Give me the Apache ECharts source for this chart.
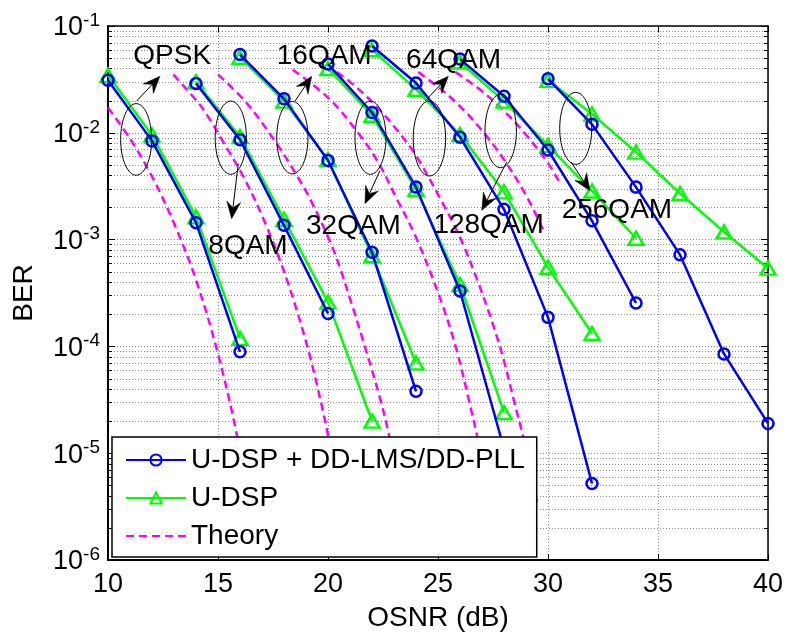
<!DOCTYPE html>
<html>
<head>
<meta charset="utf-8">
<script src="https://cdn.jsdelivr.net/npm/echarts@6/dist/echarts.min.js"></script>
<style>
  html, body { margin: 0; padding: 0; background: #fff; }
  #chart { width: 787px; height: 637px; }
</style>
</head>
<body>
<div id="chart"></div>
<script>
// ---- Measured BER vs OSNR (dB) ----
// QPSK
const qpskX = [10, 12, 14, 16];
const qpskDD = [3.1e-2, 8.4e-3, 1.44e-3, 8.9e-5];
const qpskU = [3.45e-2, 9.5e-3, 1.63e-3, 1.19e-4];
// 8QAM
const qam8X_DD = [14, 16, 18, 20];
const qam8DD = [2.9e-2, 8.6e-3, 1.36e-3, 2.03e-4];
const qam8X_U = [14, 16, 18, 20, 22];
const qam8U = [3.0e-2, 9.2e-3, 1.55e-3, 2.6e-4, 2.0e-5];
// 16QAM
const qam16X = [16, 18, 20, 22, 24];
const qam16DD = [5.4e-2, 2.08e-2, 5.5e-3, 7.6e-4, 3.8e-5];
const qam16U = [5.1e-2, 1.98e-2, 5.6e-3, 7.1e-4, 7.0e-5];
// 32QAM
const qam32X = [20, 22, 24, 26, 28];
const qam32DD = [4.4e-2, 1.55e-2, 3.1e-3, 3.3e-4, 1.1e-5];
const qam32U = [4.0e-2, 1.46e-2, 2.95e-3, 3.8e-4, 2.4e-5];
// 64QAM
const qam64X = [22, 24, 26, 28, 30, 32];
const qam64DD = [6.5e-2, 2.93e-2, 9.1e-3, 1.92e-3, 1.87e-4, 5.2e-6];
const qam64U = [6.0e-2, 2.55e-2, 9.6e-3, 2.8e-3, 5.5e-4, 1.32e-4];
// 128QAM
const qam128X = [26, 28, 30, 32, 34];
const qam128DD = [4.9e-2, 2.2e-2, 6.9e-3, 1.5e-3, 2.55e-4];
const qam128U = [4.6e-2, 1.98e-2, 7.6e-3, 2.85e-3, 1.03e-3];
// 256QAM
const qam256X = [30, 32, 34, 36, 38, 40];
const qam256DD = [3.2e-2, 1.2e-2, 3.1e-3, 7.2e-4, 8.5e-5, 1.9e-5];
const qam256U = [3.1e-2, 1.5e-2, 6.6e-3, 2.7e-3, 1.18e-3, 5.4e-4];

// ---- Theoretical curves: [OSNR, BER] ----
const theoryQPSK = [[10, 1.72e-2], [11, 8.8e-3], [12, 3.9e-3], [13, 1.42e-3], [14, 4.2e-4], [15, 8.5e-5], [15.85, 1.5e-5], [16.5, 2.5e-6]];
const theory8QAM = [[12.97, 3.5e-2], [14.15, 1.86e-2], [14.64, 1.32e-2], [15.15, 8.8e-3], [16.15, 3.9e-3], [17.15, 1.42e-3], [18.15, 4.1e-4], [19.15, 8.5e-5], [20.0, 1.5e-5], [20.65, 3.2e-6]];
const theory16QAM = [[15.01, 3.5e-2], [16.3, 1.9e-2], [17.67, 7.9e-3], [18.58, 4.0e-3], [19.18, 2.42e-3], [20.09, 9.6e-4], [20.55, 5.4e-4], [21.0, 2.8e-4], [21.6, 1.12e-4], [22.36, 3.3e-5], [22.8, 1.4e-5], [23.3, 4.5e-6]];
const theory32QAM = [[18.4, 3.9e-2], [20.09, 2.05e-2], [21.5, 9.2e-3], [22.3, 5.2e-3], [23.12, 2.42e-3], [24.0, 1.05e-3], [25.1, 2.8e-4], [25.8, 1.0e-4], [26.38, 3.3e-5], [26.9, 1.1e-5], [27.3, 4e-6]];
const theory64QAM = [[20.4, 3.7e-2], [21, 3.0e-2], [22, 1.95e-2], [23, 1.15e-2], [24, 6.1e-3], [25.1, 2.42e-3], [26, 1.05e-3], [26.8, 4.1e-4], [27.5, 1.6e-4], [28, 7.3e-5], [28.42, 3.3e-5], [29, 1.1e-5], [29.5, 3.5e-6]];
const theory128QAM = [[24.1, 3.7e-2], [25, 2.7e-2], [26, 1.77e-2], [27, 1.05e-2], [28, 5.6e-3], [29, 2.6e-3], [29.77, 1.25e-3]];
const theory256QAM = [[25.8, 3.7e-2], [26, 3.47e-2], [27, 2.45e-2], [28, 1.6e-2], [29, 9.6e-3], [30, 5.2e-3], [30.5, 3.5e-3]];

// ---- Axis ticks ----
const xTicks = [10, 15, 20, 25, 30, 35, 40];
const yDecades = [1e-6, 1e-5, 1e-4, 1e-3, 1e-2, 1e-1];
const yExponents = ['-6', '-5', '-4', '-3', '-2', '-1'];

// ---- Annotations (format labels, ellipses, arrows), positions in data units ----
const labelNames = ['QPSK', '16QAM', '64QAM', '8QAM', '32QAM', '128QAM', '256QAM'];
const labelAt = [[11.15, 0.0515], [17.67, 0.0515], [23.55, 0.0473], [14.56, 8.65e-4], [19.0, 1.33e-3], [24.79, 1.36e-3], [30.62, 1.88e-3]];
const ellipseAt = [[11.28, 8.67e-3], [15.58, 9.0e-3], [18.38, 9.0e-3], [21.93, 9.0e-3], [24.61, 8.85e-3], [27.85, 1.04e-2], [31.26, 1.1e-2]];
const ellipseRadius = [[15.5, 35.8], [15.6, 36.6], [15.6, 36.2], [15.5, 36.6], [16.2, 37.5], [15.7, 36.7], [16, 36]];
const arrowFrom = [[11.3, 1.98e-2], [15.92, 5.1e-3], [18.5, 1.98e-2], [22.36, 4.43e-3], [24.41, 1.98e-2], [28.12, 5.3e-3], [31.05, 5.33e-3]];
const arrowTo = [[12.36, 3.38e-2], [15.62, 1.57e-3], [19.26, 3.38e-2], [21.68, 2.17e-3], [25.47, 3.38e-2], [26.99, 1.88e-3], [31.91, 2.86e-3]];

const FONT = '"Liberation Sans", Arial, Helvetica, sans-serif';
const BLUE = '#0000ff', GREEN = '#00ff00', MAGENTA = '#ff00ff';
const NAME_DD = 'U-DSP + DD-LMS/DD-PLL', NAME_U = 'U-DSP', NAME_T = 'Theory';

function zip(xs, ys) { return xs.map((x, i) => [x, ys[i]]); }

// minor log grid values 2..9 x 10^k
const minorVals = [];
for (let k = -6; k <= -2; k++) {
  for (let m = 2; m <= 9; m++) minorVals.push([10, +(m * Math.pow(10, k)).toPrecision(3)]);
}

function ddSeries(data) {
  return {
    type: 'line', name: NAME_DD, data: data, z: 4,
    symbol: 'circle', symbolSize: 11, showAllSymbol: true,
    lineStyle: { color: BLUE, width: 2.5 },
    itemStyle: { color: 'rgba(0,0,0,0)', borderColor: BLUE, borderWidth: 2.5 },
    emphasis: { disabled: true }, animation: false
  };
}
function uSeries(data) {
  return {
    type: 'line', name: NAME_U, data: data, z: 3,
    symbol: 'triangle', symbolSize: [15, 13], showAllSymbol: true,
    lineStyle: { color: GREEN, width: 2.5 },
    itemStyle: { color: 'rgba(0,0,0,0)', borderColor: GREEN, borderWidth: 2.5 },
    emphasis: { disabled: true }, animation: false
  };
}
function theorySeries(data) {
  return {
    type: 'line', name: NAME_T, data: data, z: 2, smooth: 0.35,
    symbol: 'none', showSymbol: false,
    lineStyle: { color: MAGENTA, width: 2.5, type: [8, 5] },
    itemStyle: { color: 'rgba(0,0,0,0)', borderColor: 'rgba(0,0,0,0)', borderWidth: 0 },
    emphasis: { disabled: true }, animation: false
  };
}

const chart = echarts.init(document.getElementById('chart'), null, { renderer: 'canvas' });

const gridLine = { show: true, lineStyle: { color: '#8c8c8c', width: 1, type: [1, 2] } };

const option = {
  animation: false,
  backgroundColor: '#fff',
  grid: { left: 108, right: 19, top: 26, bottom: 73, containLabel: false },
  legend: {
    data: [NAME_DD, NAME_U, NAME_T],
    orient: 'vertical', left: 112, top: 437,
    backgroundColor: '#fff', borderColor: '#000', borderWidth: 1.5, borderRadius: 0,
    padding: [8, 12, 6, 13], itemGap: 8, itemWidth: 60, itemHeight: 14,
    textStyle: { fontFamily: FONT, fontSize: 28, color: '#000', lineHeight: 30 },
    selectedMode: false, z: 20
  },
  xAxis: [{
    type: 'value', min: 10, max: 40, interval: 5, position: 'bottom',
    name: 'OSNR (dB)', nameLocation: 'middle', nameGap: 44,
    nameTextStyle: { fontFamily: FONT, fontSize: 28, color: '#000' },
    axisLine: { show: true, onZero: false, lineStyle: { color: '#000', width: 2 } },
    axisTick: { show: true, inside: true, length: 6, lineStyle: { color: '#000', width: 1 } },
    axisLabel: { fontFamily: FONT, fontSize: 27, color: '#000', margin: 11,
      formatter: v => xTicks.includes(v) ? String(v) : '' },
    splitLine: gridLine
  }, {
    type: 'value', min: 10, max: 40, interval: 5, position: 'top',
    axisLine: { show: true, onZero: false, lineStyle: { color: '#000', width: 1.5 } },
    axisTick: { show: true, inside: true, length: 6, lineStyle: { color: '#000', width: 1 } },
    axisLabel: { show: false }, splitLine: { show: false }
  }],
  yAxis: [{
    type: 'log', logBase: 10, min: 1e-6, max: 1e-1, position: 'left',
    name: 'BER', nameLocation: 'middle', nameGap: 70,
    nameTextStyle: { fontFamily: FONT, fontSize: 28, color: '#000' },
    axisLine: { show: true, onZero: false, lineStyle: { color: '#000', width: 2 } },
    axisTick: { show: true, inside: true, length: 7, lineStyle: { color: '#000', width: 1 } },
    axisLabel: {
      margin: 8,
      formatter: v => {
        const i = yDecades.findIndex(d => Math.abs(Math.log10(d) - Math.log10(v)) < 1e-6);
        return i < 0 ? '' : '{b|10}{s|' + yExponents[i] + '}';
      },
      rich: {
        b: { fontFamily: FONT, fontSize: 27, color: '#000', lineHeight: 30, padding: [4, 0, 0, 0] },
        s: { fontFamily: FONT, fontSize: 19, color: '#000', lineHeight: 12, verticalAlign: 'top' }
      }
    },
    splitLine: gridLine
  }, {
    type: 'log', logBase: 10, min: 1e-6, max: 1e-1, position: 'right',
    axisLine: { show: true, onZero: false, lineStyle: { color: '#000', width: 1.5 } },
    axisTick: { show: true, inside: true, length: 7, lineStyle: { color: '#000', width: 1 } },
    axisLabel: { show: false }, splitLine: { show: false }
  }],
  series: [
    // minor log grid lines and minor ticks on both vertical edges
    {
      type: 'custom', silent: true, z: 1, animation: false,
      data: minorVals,
      renderItem: (params, api) => {
        const cs = params.coordSys;
        const y = Math.round(api.coord([10, api.value(1)])[1]) + 0.5;
        const l = cs.x, r = cs.x + cs.width;
        return {
          type: 'group', children: [
            { type: 'line', shape: { x1: l, y1: y, x2: r, y2: y },
              style: { stroke: '#8c8c8c', lineWidth: 1, lineDash: [1, 2] } },
            { type: 'line', shape: { x1: l, y1: y, x2: l + 4, y2: y },
              style: { stroke: '#000', lineWidth: 1 } },
            { type: 'line', shape: { x1: r - 4, y1: y, x2: r, y2: y },
              style: { stroke: '#000', lineWidth: 1 } }
          ]
        };
      }
    },
    theorySeries(theoryQPSK), theorySeries(theory8QAM), theorySeries(theory16QAM),
    theorySeries(theory32QAM), theorySeries(theory64QAM), theorySeries(theory128QAM),
    theorySeries(theory256QAM),
    uSeries(zip(qpskX, qpskU)), uSeries(zip(qam8X_U, qam8U)), uSeries(zip(qam16X, qam16U)),
    uSeries(zip(qam32X, qam32U)), uSeries(zip(qam64X, qam64U)), uSeries(zip(qam128X, qam128U)),
    uSeries(zip(qam256X, qam256U)),
    ddSeries(zip(qpskX, qpskDD)), ddSeries(zip(qam8X_DD, qam8DD)), ddSeries(zip(qam16X, qam16DD)),
    ddSeries(zip(qam32X, qam32DD)), ddSeries(zip(qam64X, qam64DD)), ddSeries(zip(qam128X, qam128DD)),
    ddSeries(zip(qam256X, qam256DD))
  ]
};

chart.setOption(option);

// ---- Annotation layer: labels, ellipses and arrows placed through the axes ----
function px(p) { return chart.convertToPixel({ xAxisIndex: 0, yAxisIndex: 0 }, p); }

function arrowGraphic(from, to) {
  const a = px(from), b = px(to);
  const dx = b[0] - a[0], dy = b[1] - a[1];
  const len = Math.hypot(dx, dy) || 1;
  const ux = dx / len, uy = dy / len, nx = -uy, ny = ux;
  const headL = 17, headW = 7, notch = 11;
  const base = [b[0] - ux * headL, b[1] - uy * headL];
  const nb = [b[0] - ux * notch, b[1] - uy * notch];
  return [
    { type: 'line', z: 30, shape: { x1: a[0], y1: a[1], x2: nb[0], y2: nb[1] },
      style: { stroke: '#000', lineWidth: 1 } },
    { type: 'polygon', z: 30, shape: { points: [
        b, [base[0] + nx * headW, base[1] + ny * headW], nb, [base[0] - nx * headW, base[1] - ny * headW]] },
      style: { fill: '#000', stroke: '#000', lineWidth: 0.5 } }
  ];
}

const graphics = [];
labelNames.forEach((t, i) => {
  const p = px(labelAt[i]);
  graphics.push({ type: 'text', z: 30, x: p[0], y: p[1],
    style: { text: t, fontFamily: FONT, fontSize: 28, fill: '#000', align: 'left', verticalAlign: 'middle' } });
});
ellipseAt.forEach((c, i) => {
  const p = px(c);
  graphics.push({ type: 'ellipse', z: 30,
    shape: { cx: p[0], cy: p[1], rx: ellipseRadius[i][0], ry: ellipseRadius[i][1] },
    style: { fill: null, stroke: '#000', lineWidth: 1 } });
});
arrowFrom.forEach((f, i) => { graphics.push(...arrowGraphic(f, arrowTo[i])); });

chart.setOption({ graphic: graphics });
</script>
</body>
</html>
